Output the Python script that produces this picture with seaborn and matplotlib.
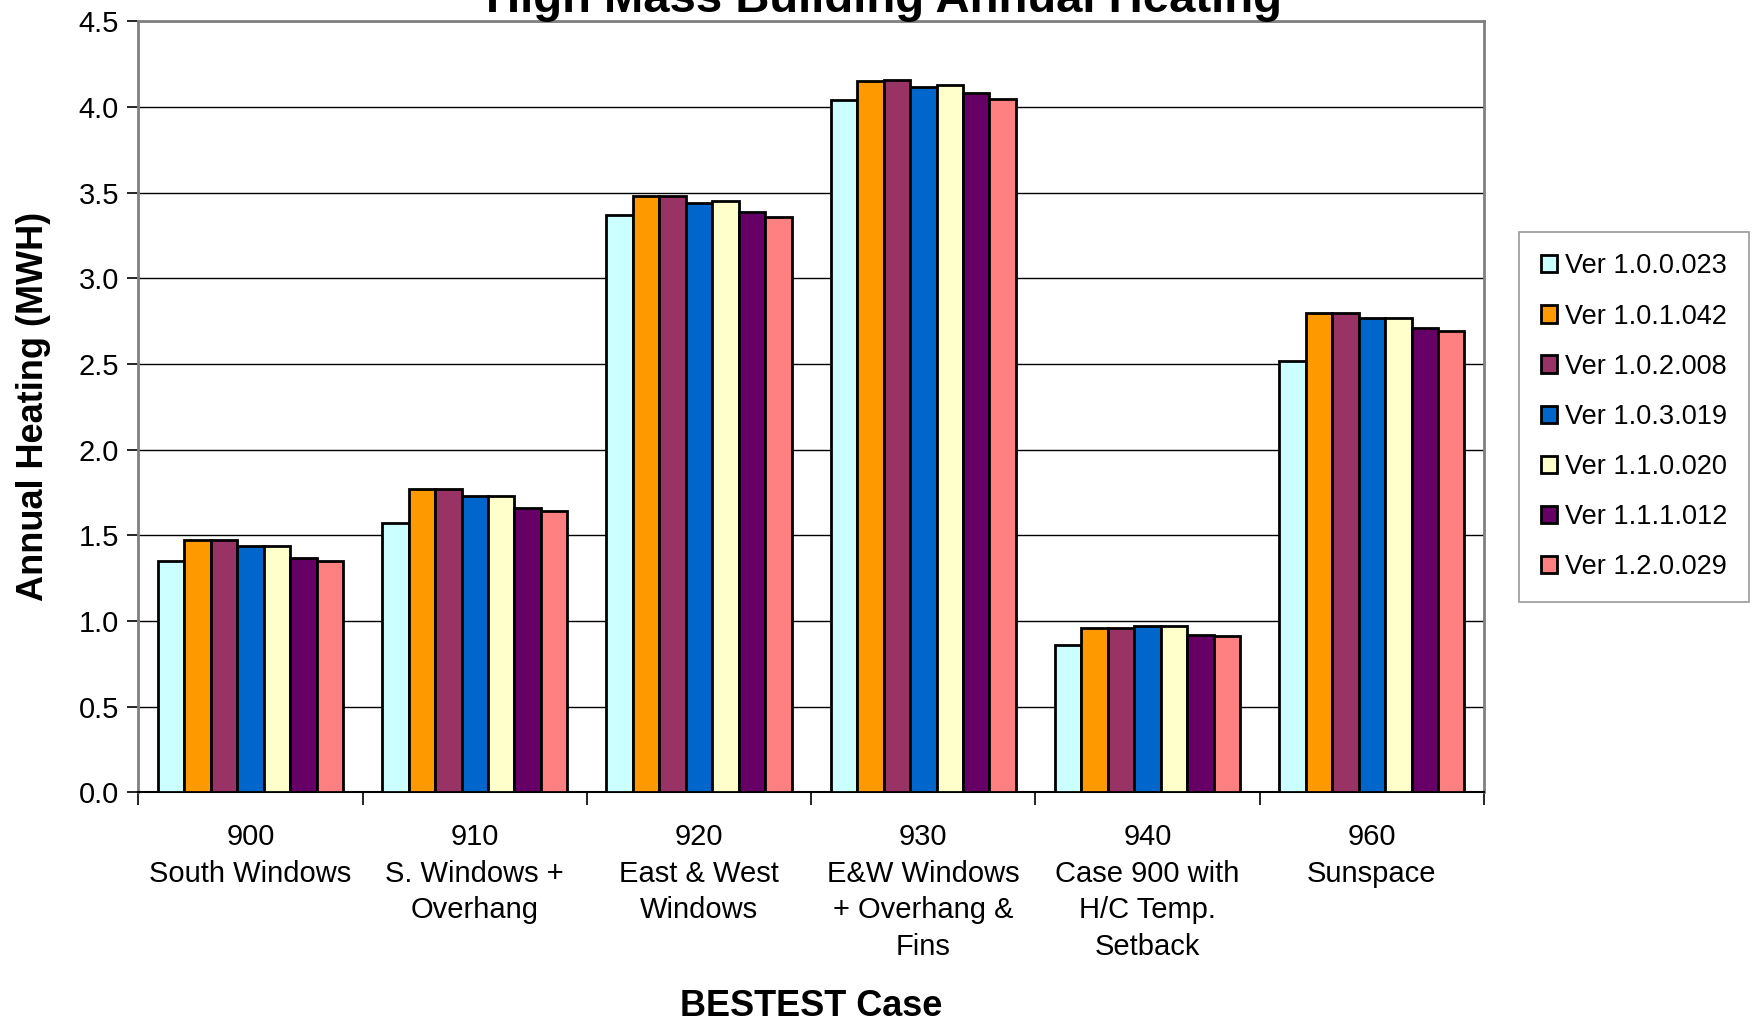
import numpy as np
import pandas as pd
import matplotlib
matplotlib.use("Agg")
import matplotlib.pyplot as plt
import seaborn as sns

# data
cases = ["900\nSouth Windows",
         "910\nS. Windows +\nOverhang",
         "920\nEast & West\nWindows",
         "930\nE&W Windows\n+ Overhang &\nFins",
         "940\nCase 900 with\nH/C Temp.\nSetback",
         "960\nSunspace"]
versions = ["Ver 1.0.0.023", "Ver 1.0.1.042", "Ver 1.0.2.008", "Ver 1.0.3.019",
            "Ver 1.1.0.020", "Ver 1.1.1.012", "Ver 1.2.0.029"]
ver_1000 = [1.35, 1.57, 3.37, 4.04, 0.86, 2.52]
ver_1010 = [1.47, 1.77, 3.48, 4.15, 0.96, 2.80]
ver_1020 = [1.47, 1.77, 3.48, 4.16, 0.96, 2.80]
ver_1030 = [1.44, 1.73, 3.44, 4.12, 0.97, 2.77]
ver_1100 = [1.44, 1.73, 3.45, 4.13, 0.97, 2.77]
ver_1110 = [1.37, 1.66, 3.39, 4.08, 0.92, 2.71]
ver_1200 = [1.35, 1.64, 3.36, 4.05, 0.91, 2.69]
colors = ["#CCFFFF", "#FF9900", "#993366", "#0066CC", "#FFFFCC", "#660066", "#FF8080"]

series = [ver_1000, ver_1010, ver_1020, ver_1030, ver_1100, ver_1110, ver_1200]
df = pd.DataFrame([
    {"case": c, "version": v, "heating": val}
    for v, vals in zip(versions, series)
    for c, val in zip(cases, vals)
])

sns.set_theme(style="white")
plt.rcParams["font.family"] = ["Liberation Sans", "DejaVu Sans"]
for key in ["text.color", "axes.labelcolor", "xtick.color", "ytick.color"]:
    plt.rcParams[key] = "black"

fig, ax = plt.subplots(figsize=(17.52, 10.21), dpi=100)
fig.subplots_adjust(left=0.079, right=0.847, top=0.979, bottom=0.224)

sns.barplot(data=df, x="case", y="heating", hue="version",
            order=cases, hue_order=versions, palette=colors,
            width=0.826, saturation=1, edgecolor="black", linewidth=2,
            errorbar=None, ax=ax, zorder=3)

# axes styling
ax.set_ylim(0, 4.5)
ax.set_xlim(-0.5, len(cases) - 0.5)
ax.set_yticks(np.arange(0, 4.51, 0.5))
ax.set_yticklabels([f"{t:.1f}" for t in np.arange(0, 4.51, 0.5)], fontsize=21)
ax.yaxis.grid(True, color="black", linewidth=1)
ax.set_axisbelow(True)

ax.set_xticks(range(len(cases)))
ax.set_xticklabels(cases, fontsize=21, linespacing=1.4, va="top")
ax.set_xticks(np.arange(-0.5, len(cases)), minor=True)
ax.tick_params(axis="x", which="major", length=0, pad=22)
ax.tick_params(axis="x", which="minor", length=9, width=1.2, color="black",
               bottom=True, direction="out")
ax.tick_params(axis="y", length=8, width=1.2, color="black", left=True,
               direction="out", pad=6)

for side in ["top", "right", "left"]:
    ax.spines[side].set_color("#808080")
    ax.spines[side].set_linewidth(2)
ax.spines["bottom"].set_color("black")
ax.spines["bottom"].set_linewidth(1.5)

ax.set_xlabel("BESTEST Case", fontsize=26, fontweight="bold")
ax.xaxis.label.set_va("center")
ax.xaxis.set_label_coords(0.5, -0.278)
ax.set_ylabel("Annual Heating (MWH)", fontsize=26, fontweight="bold")
ax.yaxis.label.set_va("center")
ax.yaxis.set_label_coords(-0.078, 0.5)

fig.text(0.5047, 0.988, "High Mass Building Annual Heating",
         fontsize=34, fontweight="bold", ha="center", va="baseline")

handles, labels = ax.get_legend_handles_labels()
ax.legend_.remove()
leg = fig.legend(handles, labels, loc="upper left", bbox_to_anchor=(0.867, 0.773),
                 fontsize=19.5, frameon=True, fancybox=False, edgecolor="#808080",
                 handlelength=0.6, handleheight=0.6, handletextpad=0.3,
                 labelspacing=0.89, borderpad=0.8, borderaxespad=0)
leg.get_frame().set_linewidth(1.2)

fig.savefig("out.png", dpi=100)
